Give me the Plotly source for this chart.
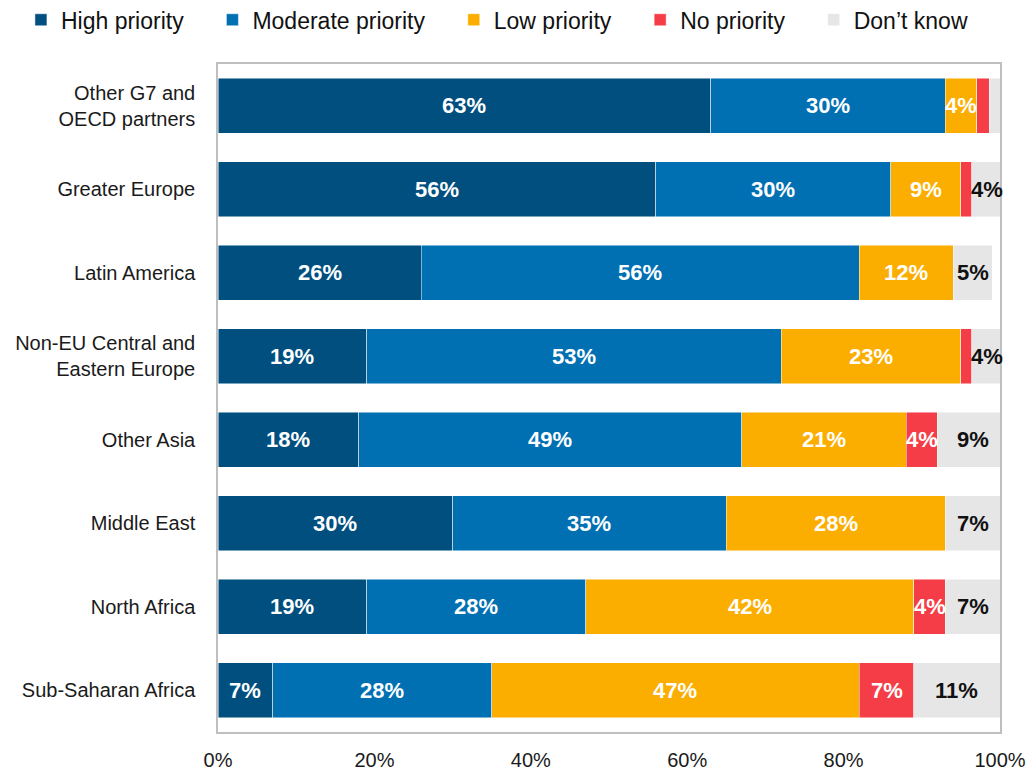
import plotly.graph_objects as go

regions = [
    "Other G7 and<br>OECD partners",
    "Greater Europe",
    "Latin America",
    "Non-EU Central and<br>Eastern Europe",
    "Other Asia",
    "Middle East",
    "North Africa",
    "Sub-Saharan Africa",
]

high = [63, 56, 26, 19, 18, 30, 19, 7]
moderate = [30, 30, 56, 53, 49, 35, 28, 28]
low = [4, 9, 12, 23, 21, 28, 42, 47]
no_priority = [1.6, 1.4, 0, 1.4, 4, 0, 4, 7]
dont_know = [1.4, 4, 5, 4, 9, 7, 7, 11]

series_names = ["High priority", "Moderate priority", "Low priority", "No priority", "Don\u2019t know"]
series_values = [high, moderate, low, no_priority, dont_know]
colors = ["#004f7f", "#0070b3", "#fbae00", "#f53d47", "#e6e6e6"]
label_colors = ["white", "white", "white", "white", "#111111"]
min_label = 3  # segments below this share are left unlabeled

tick_vals = [0, 20, 40, 60, 80, 100]
tick_text = ["0%", "20%", "40%", "60%", "80%", "100%"]

# extra room after each legend entry except the last
legend_pad = "\u00a0\u00a0\u00a0\u2009"

fig = go.Figure()
for k, (name, vals, col) in enumerate(zip(series_names, series_values, colors)):
    label = name if k == len(series_names) - 1 else name + legend_pad
    fig.add_trace(go.Bar(
        y=regions, x=vals, name=label, orientation="h",
        marker=dict(color=col, line=dict(color="rgba(255,255,255,0.6)", width=0.8)),
        hoverinfo="skip",
    ))

# segment value labels, centred in each segment
annotations = []
for i, reg in enumerate(regions):
    start = 0
    for vals, lc in zip(series_values, label_colors):
        v = vals[i]
        if v >= min_label:
            annotations.append(dict(
                x=start + v / 2, y=reg, xref="x", yref="y",
                text=f"{v:g}%", showarrow=False,
                font=dict(family="Liberation Sans, Arial, sans-serif", size=22, color=lc, weight="bold"),
            ))
        start += v

fig.update_layout(
    width=1028, height=771,
    barmode="stack", bargap=0.34,
    paper_bgcolor="white", plot_bgcolor="white",
    margin=dict(l=218, r=28, t=64, b=39, autoexpand=False),
    font=dict(family="Liberation Sans, Arial, sans-serif", size=20, color="#1a1a1a"),
    legend=dict(
        orientation="h", xref="paper", yref="paper",
        x=-0.252, y=1.034, xanchor="left", yanchor="bottom",
        font=dict(size=23, color="#111111"), traceorder="normal",
    ),
    annotations=annotations,
    xaxis=dict(
        range=[0, 100], tickvals=tick_vals, ticktext=tick_text,
        showgrid=False, zeroline=False, automargin=False,
        showline=True, mirror=True, linecolor="#bfbfbf", linewidth=1.5,
        ticks="", ticklabelstandoff=9,
    ),
    yaxis=dict(
        autorange="reversed", showgrid=False, zeroline=False, automargin=False,
        showline=True, mirror=True, linecolor="#bfbfbf", linewidth=1.5,
        ticks="", ticklabelstandoff=17,
    ),
)

fig.write_html("out.html")
